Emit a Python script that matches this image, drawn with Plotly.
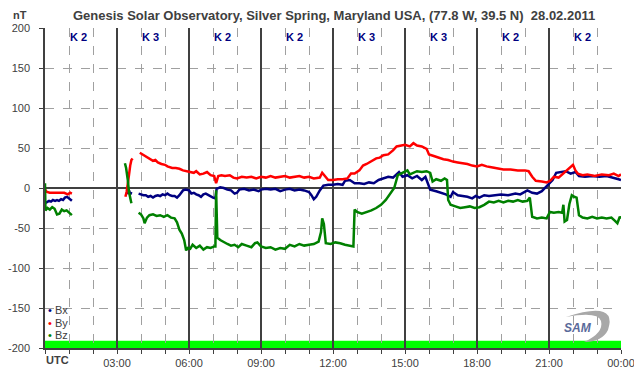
import plotly.graph_objects as go

# ---------------- data ----------------
bx_t = [0.0, 0.08, 0.17, 0.25, 0.33, 0.42, 0.5, 0.58, 0.67, 0.75, 0.83, 0.92, 1.0, 1.08, 1.12, 1.2,
        3.4, 3.45, 3.5, 3.55, 3.6, 3.7,
        3.9, 4.0, 4.1, 4.2, 4.3, 4.4, 4.5, 4.6, 4.7, 4.8, 4.9, 5.0, 5.1, 5.2, 5.3, 5.4, 5.5, 5.6, 5.75, 5.85,
        6.0, 6.1, 6.2, 6.3, 6.4, 6.5, 6.6, 6.7, 6.8, 6.9, 7.0, 7.1, 7.15, 7.3, 7.45, 7.6, 7.75, 7.9, 8.0,
        8.1, 8.3, 8.5, 8.7, 8.9, 9.0, 9.2, 9.4, 9.6, 9.8, 10.0, 10.2, 10.4, 10.6, 10.8, 11.0, 11.1, 11.2,
        11.3, 11.45, 11.6, 11.8, 12.0, 12.2, 12.4, 12.5, 12.7, 12.9, 13.1, 13.3, 13.5, 13.7, 13.9, 14.1,
        14.3, 14.5, 14.65, 14.75, 14.9, 15.1, 15.3, 15.5, 15.7, 15.85, 15.95, 16.05, 16.3, 16.5, 16.7, 16.9,
        17.0, 17.2, 17.4, 17.6, 17.8, 17.95, 18.1, 18.3, 18.5, 18.8, 19.0, 19.3, 19.6, 19.8, 20.0, 20.1,
        20.3, 20.5, 20.7, 20.9, 21.0, 21.15, 21.3, 21.5, 21.7, 21.9, 22.1, 22.25, 22.5, 22.8, 23.1, 23.4,
        23.7, 23.9, 24.0]
bx_v = [-19, -18, -16, -17, -15, -16, -15, -16, -14, -15, -12, -11, -13, -15, -16, None,
        -5, -7, -3, -8, -5, None,
        -7, -8, -9, -9, -11, -10, -12, -10, -9, -10, -8, -9, -7, -9, -10, -10, -12, -9, -3, -2,
        -3, -7, -6, -8, -9, -11, -8, -7, -9, -11, -12, -13, -1, 1, 0, -2, -3, -7, -6,
        -2, -1, -3, -2, -4, -2, -1, -2, -1, -4, -2, -1, -3, -2, -3, -5, -9, -14,
        -11, -3, 3, 4, 4, 5, 4, 9, 10, 6, 6, 5, 7, 6, 10, 12,
        14, 13, 18, 20, 14, 16, 12, 15, 10, 14, 6, -2, -4, -6, -8, -11,
        -5, -9, -10, -11, -13, -10, -12, -9, -10, -9, -8, -9, -7, -8, -5, -3,
        -6, -7, -4, 2, 6, 10, 19, 20, 21, 18, 20, 15, 14, 15, 14, 15,
        13, 11, 10]

by_t = [0.0, 0.08, 0.2, 0.4, 0.6, 0.8, 0.95, 1.05, 1.12, 1.2,
        3.35, 3.4, 3.45, 3.5, 3.55, 3.6, 3.65, 3.7,
        3.95, 4.05, 4.15, 4.25, 4.4, 4.5, 4.6, 4.7, 4.85, 5.0, 5.1, 5.3, 5.45, 5.6, 5.75, 5.9, 6.05, 6.2,
        6.3, 6.45, 6.6, 6.75, 6.9, 7.05, 7.13, 7.22, 7.35, 7.5, 7.7, 7.85, 8.0, 8.2, 8.4, 8.6, 8.8, 9.0,
        9.2, 9.4, 9.6, 9.8, 10.0, 10.2, 10.4, 10.6, 10.8, 11.0, 11.2, 11.45, 11.55, 11.65, 11.8, 12.0,
        12.2, 12.4, 12.6, 12.75, 12.9, 13.1, 13.25, 13.4, 13.6, 13.8, 13.95, 14.1, 14.3, 14.5, 14.65,
        14.85, 15.0, 15.2, 15.35, 15.5, 15.7, 15.9, 16.0, 16.2, 16.4, 16.6, 16.8, 17.0, 17.2, 17.4, 17.6,
        17.8, 18.0, 18.2, 18.4, 18.6, 18.8, 19.1, 19.4, 19.7, 20.0, 20.15, 20.3, 20.45, 20.7, 20.9, 21.05,
        21.2, 21.4, 21.6, 21.8, 22.0, 22.1, 22.2, 22.4, 22.6, 22.9, 23.2, 23.5, 23.7, 23.9, 24.0]
by_v = [-2, -5, -6, -6, -6, -6, -8, -6, -7, None,
        -11, -5, 5, 20, 28, 35, 37, None,
        44, 42, 41, 38, 36, 34, 35, 32, 30, 29, 27, 25, 25, 24, 22, 21, 20, 19,
        21, 17, 18, 20, 16, 15, 6, 15, 16, 15, 16, 13, 12, 14, 13, 14, 12, 14,
        13, 15, 13, 14, 15, 13, 14, 15, 13, 14, 12, 13, 19, 15, 10, 10,
        11, 11, 12, 18, 18, 22, 28, 30, 33, 37, 38, 41, 42, 47, 52,
        53, 54, 52, 56, 53, 52, 49, 42, 40, 38, 36, 35, 33, 32, 31, 30,
        28, 27, 29, 27, 26, 25, 23, 23, 22, 22, 21, 14, 9, 8, 7, 9,
        14, 13, 18, 24, 29, 22, 18, 16, 17, 15, 17, 16, 18, 15, 17]

bz_t = [0.0, 0.02, 0.1, 0.2, 0.3, 0.4, 0.5, 0.6, 0.7, 0.8, 0.9, 1.0, 1.12, 1.2,
        3.33, 3.38, 3.45, 3.5, 3.6, 3.7,
        3.9, 4.0, 4.1, 4.15, 4.25, 4.35, 4.5, 4.65, 4.8, 4.95, 5.1, 5.25, 5.4, 5.5, 5.6, 5.7, 5.8, 5.88,
        5.95, 6.05, 6.15, 6.3, 6.45, 6.6, 6.75, 6.9, 7.05, 7.1, 7.13, 7.18, 7.3, 7.45, 7.6, 7.75, 7.9,
        8.05, 8.2, 8.4, 8.6, 8.75, 8.85, 9.0, 9.2, 9.4, 9.6, 9.8, 10.0, 10.2, 10.4, 10.6, 10.8, 11.0,
        11.2, 11.4, 11.5, 11.55, 11.62, 11.7, 11.9, 12.1, 12.3, 12.5, 12.7, 12.85, 12.9, 13.0, 13.2,
        13.4, 13.6, 13.8, 14.0, 14.2, 14.4, 14.55, 14.7, 14.85, 15.0, 15.1, 15.2, 15.35, 15.5, 15.7,
        15.9, 16.05, 16.15, 16.3, 16.5, 16.65, 16.75, 16.8, 16.9, 17.1, 17.3, 17.5, 17.7, 17.9, 18.1,
        18.3, 18.5, 18.7, 18.9, 19.1, 19.3, 19.5, 19.7, 19.9, 20.1, 20.2, 20.3, 20.5, 20.7, 20.9, 21.04,
        21.2, 21.4, 21.55, 21.6, 21.65, 21.75, 21.85, 21.95, 22.05, 22.15, 22.25, 22.4, 22.6, 22.8,
        23.0, 23.2, 23.4, 23.6, 23.75, 23.85, 23.95, 24.0]
bz_v = [6, -28, -25, -27, -24, -26, -33, -32, -27, -29, -28, -31, -34, None,
        31, 25, 10, -5, -19, None,
        -31, -33, -38, -44, -37, -34, -33, -35, -34, -36, -34, -37, -38, -43, -52, -57, -65, -78,
        -75, -76, -71, -75, -72, -77, -74, -75, -73, -73, -3, -62, -65, -68, -70, -72, -71,
        -74, -70, -72, -74, -69, -68, -73, -75, -74, -77, -75, -76, -71, -73, -70, -72, -71,
        -70, -67, -55, -38, -45, -69, -70, -68, -69, -71, -72, -73, -27, -30, -32,
        -30, -28, -25, -21, -15, -6, 0, 16, 18, 21, 22, 17, 19, 21, 20,
        21, 19, 8, 11, 9, 12, 10, -15, -21, -23, -25, -24, -23, -25, -24,
        -21, -17, -18, -16, -18, -16, -17, -15, -17, -16, -12, -36, -38, -37, -38, -30,
        -31, -30, -31, -21, -42, -40, -20, -9, -11, -12, -34, -37, -38, -36,
        -38, -37, -38, -37, -41, -44, -36, -38]

k_index = [2, 3, 2, 2, 3, 3, 2, 2]
k_centers = [1.4 + 3 * i for i in range(8)]
hour_major = [0, 3, 6, 9, 12, 15, 18, 21, 24]
hour_labels = ["", "03:00", "06:00", "09:00", "12:00", "15:00", "18:00", "21:00", "00:00"]
hour_minor = [h for h in range(25) if h % 3 != 0]
y_ticks = [-200, -150, -100, -50, 0, 50, 100, 150, 200]
y_tick_labels = ["-200", "-150", "-100", "-50", "0", "50", "100", "150", "200"]
y_grid = [-150, -100, -50, 50, 100, 150]
series_names = ["Bx", "By", "Bz"]
series_colors = ["#000080", "#ff0000", "#008000"]

FONT = "Liberation Sans, Arial, sans-serif"
OFF = 8                      # page body margin of the browser
W, H = 642 - OFF, 376 - OFF  # figure size
L, T = 45 - OFF, 28 - OFF    # plot area left/top in figure px
PW, PH = 576, 320
R, B = W - L - PW, H - T - PH

fig = go.Figure()
for t, v, name, col in zip([bx_t, by_t, bz_t], [bx_v, by_v, bz_v], series_names, series_colors):
    fig.add_trace(go.Scatter(x=t, y=v, mode="lines", name=name, showlegend=False,
                             line=dict(color=col, width=2.5), connectgaps=False))

def px2paper(px, py):
    """page pixel -> paper coords"""
    return (px - OFF - L) / PW, (T + PH - (py - OFF)) / PH

shapes = []
# green bar at bottom
shapes.append(dict(type="rect", xref="paper", yref="y", x0=0, x1=1, y0=-200, y1=-191,
                   fillcolor="#00ff00", line=dict(width=0), layer="below"))
# SAM logo swoosh
pts = [(566, 317), (618, 300), (608, 330), (602, 342), (584, 342), (604, 333), (601, 321), (598, 311), (566, 317)]
pp = [px2paper(*p) for p in pts]
path = "M {0[0]},{0[1]} Q {1[0]},{1[1]} {2[0]},{2[1]} Q {3[0]},{3[1]} {4[0]},{4[1]} Q {5[0]},{5[1]} {6[0]},{6[1]} Q {7[0]},{7[1]} {8[0]},{8[1]} Z".format(*pp)
shapes.append(dict(type="path", xref="paper", yref="paper", path=path,
                   fillcolor="#a8a8a8", line=dict(width=0)))

annotations = []
sx, sy = px2paper(578, 328)
annotations.append(dict(x=sx, y=sy, xref="paper", yref="paper", xanchor="center", yanchor="middle",
                        text="<i><b>SAM</b></i>", showarrow=False,
                        font=dict(family=FONT, size=12, color="#5a6a9a")))
# K index labels
for kc, kv in zip(k_centers, k_index):
    annotations.append(dict(x=kc, y=px2paper(0, 37)[1], xref="x", yref="paper",
                            xanchor="center", yanchor="middle",
                            text="<b>K %d</b>" % kv, showarrow=False,
                            font=dict(family=FONT, size=11, color="#000080")))
# title & axis labels
annotations.append(dict(x=px2paper(334, 0)[0], y=px2paper(0, 16)[1], xref="paper", yref="paper",
                        xanchor="center", yanchor="middle",
                        text="<b>Genesis Solar Observatory, Silver Spring, Maryland USA, (77.8 W, 39.5 N)  28.02.2011</b>",
                        showarrow=False, font=dict(family=FONT, size=13, color="#404040")))
annotations.append(dict(x=px2paper(20, 0)[0], y=px2paper(0, 15)[1], xref="paper", yref="paper",
                        xanchor="center", yanchor="middle",
                        text="<b>nT</b>", showarrow=False, font=dict(family=FONT, size=11, color="#404040")))
annotations.append(dict(x=px2paper(44, 0)[0], y=px2paper(0, 360)[1], xref="paper", yref="paper",
                        xanchor="left", yanchor="middle",
                        text="<b>UTC</b>", showarrow=False, font=dict(family=FONT, size=11, color="#404040")))
# legend
for i, (name, col) in enumerate(zip(series_names, series_colors)):
    lx, ly = px2paper(46, 310 + 12.5 * i)
    annotations.append(dict(x=lx, y=ly, xref="paper", yref="paper", xanchor="left", yanchor="middle",
                            text='<span style="color:%s">•</span> %s' % (col, name), showarrow=False,
                            font=dict(family=FONT, size=11, color="#404040")))

fig.update_layout(
    width=W, height=H, margin=dict(l=L, r=R, t=T, b=B, autoexpand=False),
    paper_bgcolor="white", plot_bgcolor="white", showlegend=False,
    annotations=annotations, shapes=shapes,
    font=dict(family=FONT, size=11, color="#404040"),
)
fig.update_xaxes(range=[0, 24], tickmode="array", tickvals=hour_major, ticktext=hour_labels,
                 showgrid=True, gridcolor="#404040", gridwidth=1.5, automargin=False,
                 ticks="outside", ticklen=4, tickcolor="#404040",
                 showline=True, linecolor="#404040", linewidth=1.5, zeroline=False,
                 minor=dict(tickmode="array", tickvals=hour_minor, showgrid=True, griddash="dash",
                            gridcolor="#a0a0a0", gridwidth=1, ticks="outside", ticklen=4, tickcolor="#404040"),
                 tickfont=dict(size=11, color="#404040"), fixedrange=True)
fig.update_yaxes(range=[-200, 200], tickmode="array", tickvals=y_ticks, ticktext=y_tick_labels,
                 automargin=False,
                 showgrid=False, ticks="outside", ticklen=4, tickcolor="#404040",
                 showline=True, linecolor="#404040", linewidth=1.5,
                 zeroline=True, zerolinecolor="#404040", zerolinewidth=1.5,
                 minor=dict(tickmode="array", tickvals=y_grid, showgrid=True, griddash="dash",
                            gridcolor="#a0a0a0", gridwidth=1),
                 ticklabelstandoff=7,
                 tickfont=dict(size=11, color="#404040"), fixedrange=True)

fig.write_html("out.html")
